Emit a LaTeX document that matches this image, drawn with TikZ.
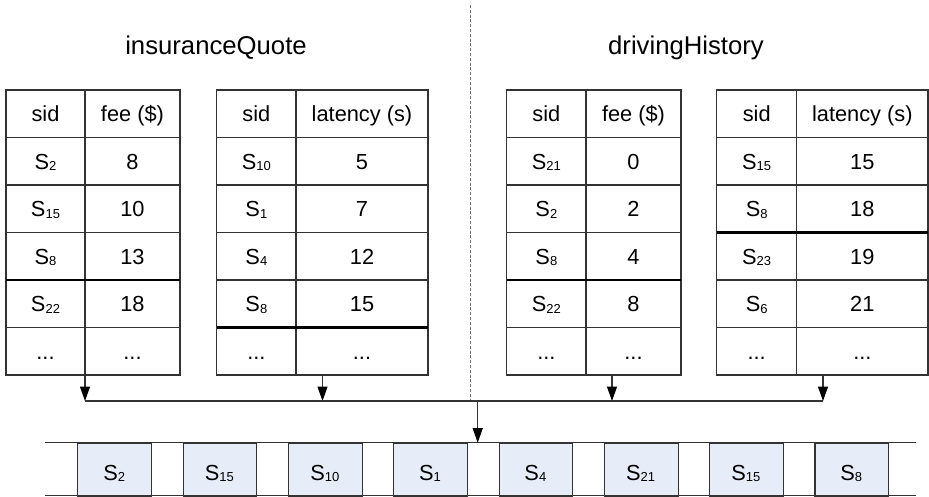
\documentclass[tikz,border=0pt]{standalone}
\usepackage{fontspec}
\setmainfont{Liberation Sans}
\usetikzlibrary{arrows.meta}

\definecolor{rule}{HTML}{333333}
\definecolor{divider}{HTML}{707070}
\definecolor{slotfill}{HTML}{E6EDF8}

% service id with its number set as a subscript
\newcommand\sx[1]{S\raisebox{-1.5pt}{\fontsize{13}{13}\selectfont #1}}
% three dots for the rows that are left out
\newcommand\more{...}

\tikzset{
  grid/.style={draw=rule, line width=1.1pt},
  heavy/.style={draw=black, line width=2.4pt},
  cell/.style={anchor=base, inner sep=0pt, font=\fontsize{21.8}{24}\selectfont},
  title/.style={anchor=base, inner sep=0pt, font=\fontsize{25.7}{28}\selectfont},
  feed/.style={draw=rule, line width=1.1pt,
               -{Triangle[length=14.5pt,width=10pt,color=black]}},
  slot/.style={draw=rule, line width=1.1pt, fill=slotfill, minimum width=73.7pt,
               minimum height=52.8pt, inner sep=0pt, anchor=north west},
}

% #1 name, #2 left x, #3 column split x, #4 right x, #5 y of the cut-off line,
% #6 rows as sid/value, header first
\newcommand\datatable[6]{%
  \draw[grid] (#2,90) rectangle (#4,375);
  \draw[grid] (#3,90) -- (#3,375);
  \foreach \k in {1,2,3,4,5} \draw[grid] (#2,90+47.5*\k) -- (#4,90+47.5*\k);
  \draw[heavy] (#2,#5) -- (#4,#5);
  \foreach [count=\r from 0] \s/\v in {#6} {
    \node[cell] (#1-\r-sid) at ({(#2+#3)/2},{90+47.5*(\r+0.5)+7.8}) {\s};
    \node[cell] (#1-\r-val) at ({(#3+#4)/2},{90+47.5*(\r+0.5)+7.8}) {\v};
  }%
}

\begin{document}
\begin{tikzpicture}[x=1pt,y=-1pt]
\useasboundingbox (0,0) rectangle (929,496);

% service group titles and the dashed split between them
\node[title] (insurance) at (216,54) {insuranceQuote};
\node[title] (driving) at (686,54) {drivingHistory};
\draw[divider, line width=1pt, dash pattern=on 3pt off 1.8pt] (470,5) -- (470,400);

% ranked lists of each group
\datatable{ifee}{6}{85}{180}{280}{sid/fee (\$), \sx{2}/8, \sx{15}/10, \sx{8}/13, \sx{22}/18, \more/\more}
\datatable{ilat}{216.7}{296}{428}{327.5}{sid/latency (s), \sx{10}/5, \sx{1}/7, \sx{4}/12, \sx{8}/15, \more/\more}
\datatable{dfee}{506.7}{586}{681}{280}{sid/fee (\$), \sx{21}/0, \sx{2}/2, \sx{8}/4, \sx{22}/8, \more/\more}
\datatable{dlat}{716.7}{796.7}{928}{232.5}{sid/latency (s), \sx{15}/15, \sx{8}/18, \sx{23}/19, \sx{6}/21, \more/\more}

% feeds from the lists into the collector line
\coordinate (ifee-out) at (85,375);
\coordinate (ilat-out) at (322.5,375);
\coordinate (dfee-out) at (612,375);
\coordinate (dlat-out) at (823,375);
\coordinate (ifee-in) at (85,401);
\coordinate (ilat-in) at (322.5,401);
\coordinate (dfee-in) at (612,401);
\coordinate (dlat-in) at (823,401);
\foreach \t in {ifee,ilat,dfee,dlat} \draw[feed] (\t-out) -- (\t-in);
\draw[grid] (ifee-in) -- (dlat-in);

% merged candidate sequence
\foreach [count=\k from 0] \s in {2,15,10,1,4,21,15,8} {
  \node[slot] (slot\k) at ({77.3+105.3*\k},442.7) {};
  \node[cell] (slot\k-label) at ({77.3+105.3*\k+36.85},480) {\sx{\s}};
}
\coordinate (strip-w) at (45,442.7);
\coordinate (strip-e) at (915.7,442.7);
\coordinate (strip-sw) at (45,495.4);
\coordinate (strip-se) at (915.7,495.4);
\draw[grid] (strip-w) -- (strip-e);
\draw[grid] (strip-sw) -- (strip-se);

\coordinate (merge) at (477.7,401);
\coordinate (strip-in) at (477.7,442.7);
\draw[feed] (merge) -- (strip-in);
\end{tikzpicture}
\end{document}
